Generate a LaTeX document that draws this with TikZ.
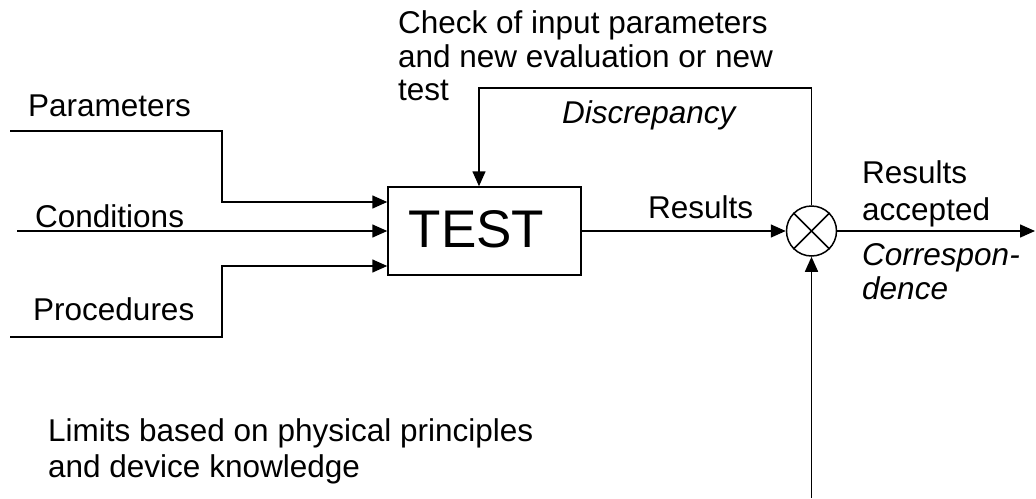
\documentclass[tikz,border=0pt]{standalone}
\usepackage{fontspec}
\setmainfont{Liberation Sans}
\usetikzlibrary{arrows.meta}
\tikzset{
  lbl/.style={font=\fontsize{31.5}{36}\selectfont, anchor=base west, inner sep=0pt},
  ilbl/.style={lbl, font=\fontsize{31.5}{36}\selectfont\itshape},
  wire/.style={line width=1.5pt},
  arr/.style={wire, -{Triangle[length=15pt,width=13pt]}},
  testbox/.style={draw, line width=1.5pt, minimum width=193pt, minimum height=88pt, inner sep=0pt},
  summer/.style={draw, circle, line width=1.5pt, minimum size=50pt, inner sep=0pt}
}
\begin{document}
\begin{tikzpicture}[x=1pt, y=-1pt]
\useasboundingbox (0,0) rectangle (1036,498);

% main blocks
\node[testbox] (test) at (484.5,231) {};
\node[font=\fontsize{53}{60}\selectfont, inner sep=0pt] (testtxt) at (476.5,229) {TEST};
\node[summer] (sum) at (811.5,231) {};
\draw[wire] (sum.45) -- (sum.225);
\draw[wire] (sum.135) -- (sum.315);

% inputs
\coordinate (pin) at (10,131);
\coordinate (pbend1) at (222,131);
\coordinate (pbend2) at (222,202);
\coordinate (cin) at (17,231);
\coordinate (rin) at (10,337);
\coordinate (rbend1) at (222,337);
\coordinate (rbend2) at (222,266);
\draw[arr] (pin) -- (pbend1) -- (pbend2) -- (test.west |- pbend2);
\draw[arr] (cin) -- (test.west);
\draw[arr] (rin) -- (rbend1) -- (rbend2) -- (test.west |- rbend2);

% results to comparator
\draw[arr] (test.east) -- (sum.west);

% feedback
\coordinate (fbr) at (811.5,88);
\coordinate (fbl) at (479,88);
\draw[arr] (sum.north) -- (fbr) -- (fbl) -- (fbl |- test.north);

% limits from below
\coordinate (lim) at (811.5,498);
\draw[arr] (lim) -- (sum.south);

% output
\coordinate (out) at (1035,231);
\draw[arr] (sum.east) -- (out);

% labels
\node[lbl] (tpar) at (28,116) {Parameters};
\node[lbl] (tcond) at (35,227) {Conditions};
\node[lbl] (tproc) at (33,320) {Procedures};
\node[lbl] (tchk1) at (398,33) {Check of input parameters};
\node[lbl] (tchk2) at (398,67) {and new evaluation or new};
\node[lbl] (tchk3) at (398,100) {test};
\node[ilbl] (tdisc) at (562,123) {Discrepancy};
\node[lbl] (tres) at (648,218) {Results};
\node[lbl] (tacc1) at (862,183) {Results};
\node[lbl] (tacc2) at (862,220) {accepted};
\node[ilbl] (tcor1) at (862,265) {Correspon-};
\node[ilbl] (tcor2) at (862,299) {dence};
\node[lbl] (tlim1) at (48,441) {Limits based on physical principles};
\node[lbl] (tlim2) at (48,477) {and device knowledge};
\end{tikzpicture}
\end{document}
